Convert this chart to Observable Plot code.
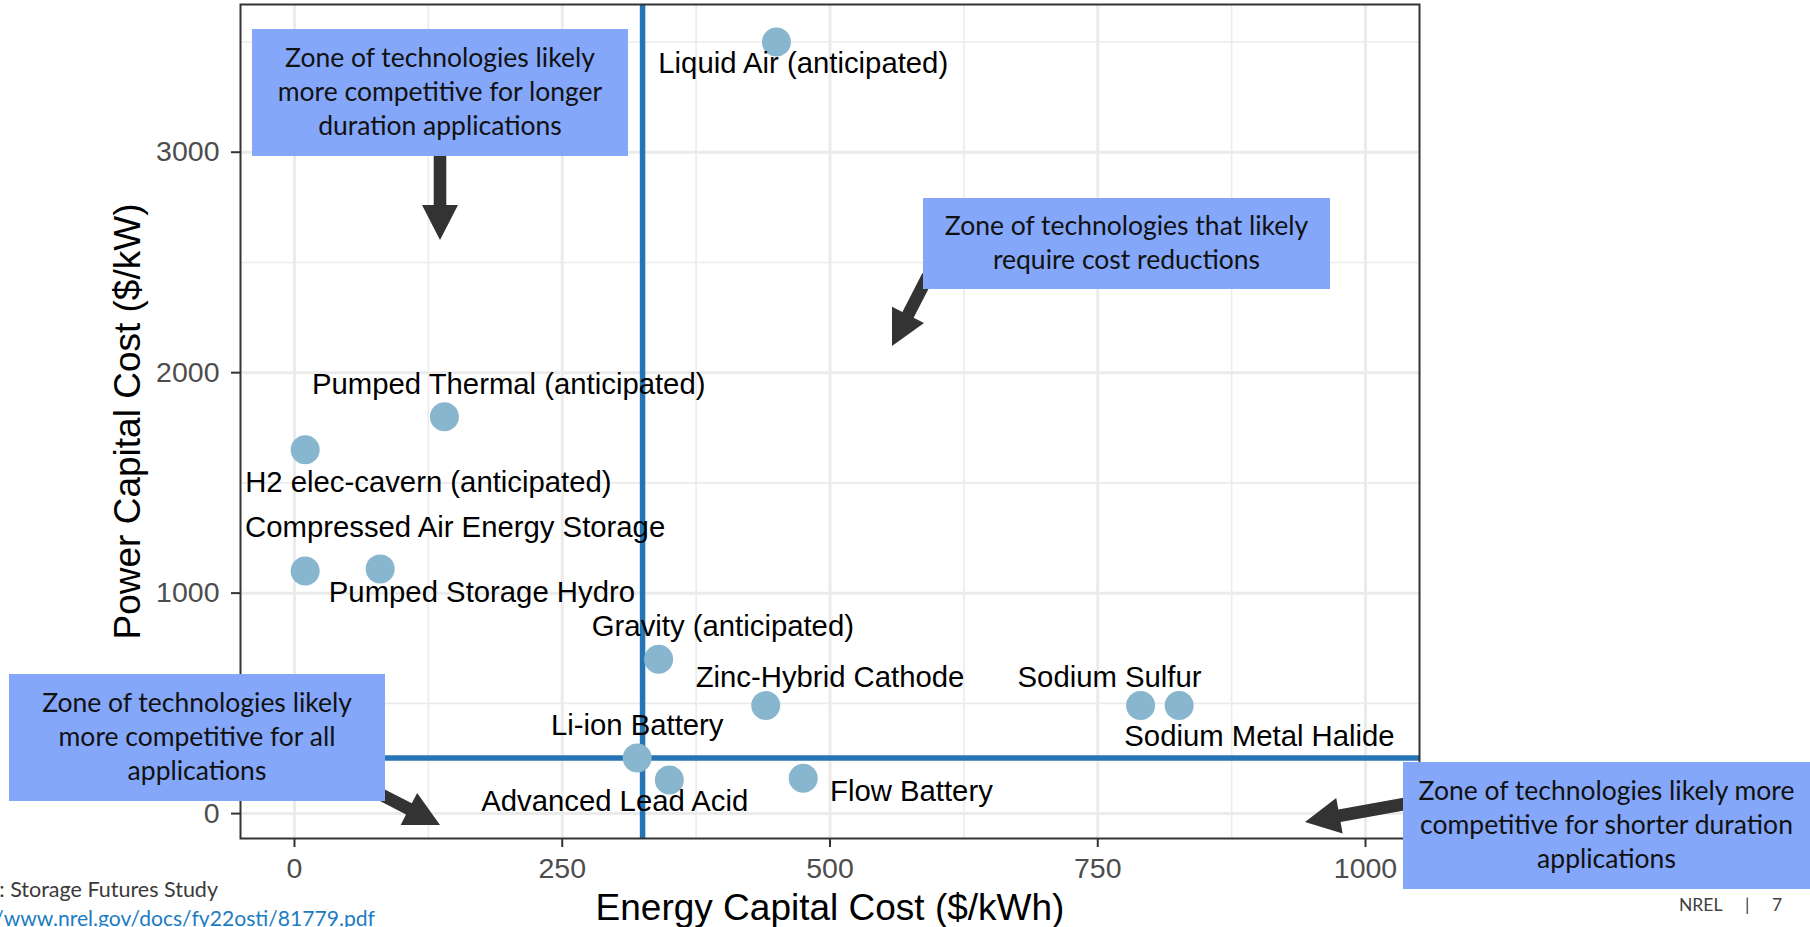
<!DOCTYPE html>
<html><head><meta charset="utf-8">
<script src="https://cdn.jsdelivr.net/npm/d3@7"></script>
<script src="https://cdn.jsdelivr.net/npm/@observablehq/plot@0.6"></script>
<style>
html,body{margin:0;padding:0;background:#fff;overflow:hidden;width:1810px;height:927px;}
#wrap{position:relative;width:1810px;height:927px;overflow:hidden;}
#wrap svg.plot{position:absolute;left:0;top:0;}
.box{position:absolute;box-sizing:border-box;padding-bottom:3px;background:#84a7fa;display:flex;align-items:center;justify-content:center;text-align:center;font-family:Lato,"Noto Sans",sans-serif;font-size:26.5px;line-height:34px;color:#111;}
.foot{position:absolute;font-family:Lato,"Noto Sans",sans-serif;white-space:nowrap;}
</style></head>
<body><div id="wrap"></div>
<script>
// ---- data ----
const technologies = ["Liquid Air (anticipated)", "Pumped Thermal (anticipated)", "H2 elec-cavern (anticipated)",
  "Compressed Air Energy Storage", "Pumped Storage Hydro", "Gravity (anticipated)", "Zinc-Hybrid Cathode",
  "Sodium Sulfur", "Sodium Metal Halide", "Li-ion Battery", "Advanced Lead Acid", "Flow Battery"];
const energyCost = [450, 140, 10, 10, 80, 340, 440, 790, 826, 320, 350, 475];   // $/kWh
const powerCost  = [3500, 1800, 1650, 1100, 1110, 700, 490, 490, 490, 252, 152, 160]; // $/kW
// repelled label anchor positions (data units)
const labelX = [475, 200, 125, 150, 175, 400, 500, 761, 901, 320, 299, 576];
const labelY = [3400, 1948, 1500, 1299, 1001, 850, 618, 618, 351, 401, 53, 98];
const refEnergy = [325];
const refPower = [252];
const xTicks = [0, 250, 500, 750, 1000];
const yTicks = [0, 1000, 2000, 3000];
const xMinor = [125, 375, 625, 875];
const yMinor = [500, 1500, 2500, 3500];
const xTitle = "Energy Capital Cost ($/kWh)";
const yTitle = "Power Capital Cost ($/kW)";
const zoneTexts = [
  "Zone of technologies likely<br>more competitive for longer<br>duration applications",
  "Zone of technologies that likely<br>require cost reductions",
  "Zone of technologies likely<br>more competitive for all<br>applications",
  "Zone of technologies likely more<br>competitive for shorter duration<br>applications"
];
const sourceText = "Source: Storage Futures Study";
const sourceLink = "https://www.nrel.gov/docs/fy22osti/81779.pdf";

const rows = technologies.map((t, i) => ({tech: t, e: energyCost[i], p: powerCost[i], lx: labelX[i], ly: labelY[i]}));

// ---- chart ----
const plot = Plot.plot({
  width: 1810, height: 927,
  marginLeft: 240, marginRight: 391, marginTop: 4, marginBottom: 89,
  x: {domain: [-50.4, 1050.4]},
  y: {domain: [-113, 3670]},
  style: {fontFamily: "'Liberation Sans', Arial, sans-serif", background: "transparent"},
  marks: [
    Plot.gridX({ticks: xMinor, stroke: "#ebebeb", strokeOpacity: 1, strokeWidth: 1.6}),
    Plot.gridY({ticks: yMinor, stroke: "#ebebeb", strokeOpacity: 1, strokeWidth: 1.6}),
    Plot.gridX({ticks: xTicks, stroke: "#ebebeb", strokeOpacity: 1, strokeWidth: 3}),
    Plot.gridY({ticks: yTicks, stroke: "#ebebeb", strokeOpacity: 1, strokeWidth: 3}),
    Plot.ruleX(refEnergy, {stroke: "#2574b5", strokeWidth: 5.5}),
    Plot.ruleY(refPower, {stroke: "#2574b5", strokeWidth: 5.5}),
    Plot.dot(rows, {x: "e", y: "p", r: 14.5, fill: "#87b6ce", stroke: "none"}),
    Plot.text(rows, {x: "lx", y: "ly", text: "tech", fontSize: 29.3, fill: "#000"}),
    Plot.frame({stroke: "#333333", strokeWidth: 2}),
    Plot.axisX({ticks: xTicks, tickSize: 9, tickPadding: 10, fontSize: 28.5, fill: "#4d4d4d", stroke: "#333333", strokeWidth: 2, tickFormat: d => String(d), label: null}),
    Plot.axisY({ticks: yTicks, tickSize: 9, tickPadding: 12, fontSize: 28.5, fill: "#4d4d4d", stroke: "#333333", strokeWidth: 2, tickFormat: d => String(d), label: null}),
    Plot.text([xTitle], {frameAnchor: "bottom", textAnchor: "middle", lineAnchor: "middle", dy: 70, fontSize: 37, fill: "#000"}),
    Plot.text([yTitle], {frameAnchor: "left", textAnchor: "middle", lineAnchor: "middle", dx: -112, rotate: -90, fontSize: 37, fill: "#000"})
  ]
});
plot.classList.add("plot");
const wrap = document.getElementById("wrap");
wrap.appendChild(plot);

// ---- annotation layer (slide shapes) ----
const arrows = [
  {from: [440, 150], to: [440, 240]},
  {from: [928, 276], to: [892, 346]},
  {from: [380, 794], to: [440, 825]},
  {from: [1410, 803], to: [1305, 822]}
];
const ns = "http://www.w3.org/2000/svg";
const over = document.createElementNS(ns, "svg");
over.setAttribute("width", 1810); over.setAttribute("height", 927);
over.style.position = "absolute"; over.style.left = "0"; over.style.top = "0";
for (const a of arrows) {
  const [x1, y1] = a.from, [x2, y2] = a.to;
  const L = Math.hypot(x2 - x1, y2 - y1), ux = (x2 - x1) / L, uy = (y2 - y1) / L, nx = -uy, ny = ux;
  const w = 6.3, hw = 18, hl = 35;
  const bx = x2 - ux * hl, by = y2 - uy * hl;
  const pts = [[x1 + nx * w, y1 + ny * w], [bx + nx * w, by + ny * w], [bx + nx * hw, by + ny * hw], [x2, y2],
    [bx - nx * hw, by - ny * hw], [bx - nx * w, by - ny * w], [x1 - nx * w, y1 - ny * w]];
  const p = document.createElementNS(ns, "polygon");
  p.setAttribute("points", pts.map(q => q.join(",")).join(" "));
  p.setAttribute("fill", "#333333");
  over.appendChild(p);
}
wrap.appendChild(over);

const boxes = [
  {left: 252, top: 29, width: 376, height: 127},
  {left: 923, top: 198, width: 407, height: 91},
  {left: 9, top: 674, width: 376, height: 127},
  {left: 1403, top: 762, width: 407, height: 127}
];
boxes.forEach((b, i) => {
  const d = document.createElement("div");
  d.className = "box";
  Object.assign(d.style, {left: b.left + "px", top: b.top + "px", width: b.width + "px", height: b.height + "px"});
  d.innerHTML = "<div>" + zoneTexts[i] + "</div>";
  wrap.appendChild(d);
});

function foot(text, style) {
  const s = document.createElement("div");
  s.className = "foot"; s.textContent = text;
  Object.assign(s.style, style);
  wrap.appendChild(s);
  return s;
}
foot(sourceText, {right: (1810 - 218) + "px", top: "876px", fontSize: "21.5px", color: "#3a3a3a"});
foot(sourceLink, {right: (1810 - 375) + "px", top: "905px", fontSize: "21.1px", color: "#1c7cc2"});
foot("NREL", {left: "1679px", top: "894px", fontSize: "17.5px", color: "#404040"});
foot("|", {left: "1745px", top: "894px", fontSize: "17.5px", color: "#404040"});
foot("7", {left: "1772px", top: "894px", fontSize: "17.5px", color: "#404040"});
</script>
</body></html>
